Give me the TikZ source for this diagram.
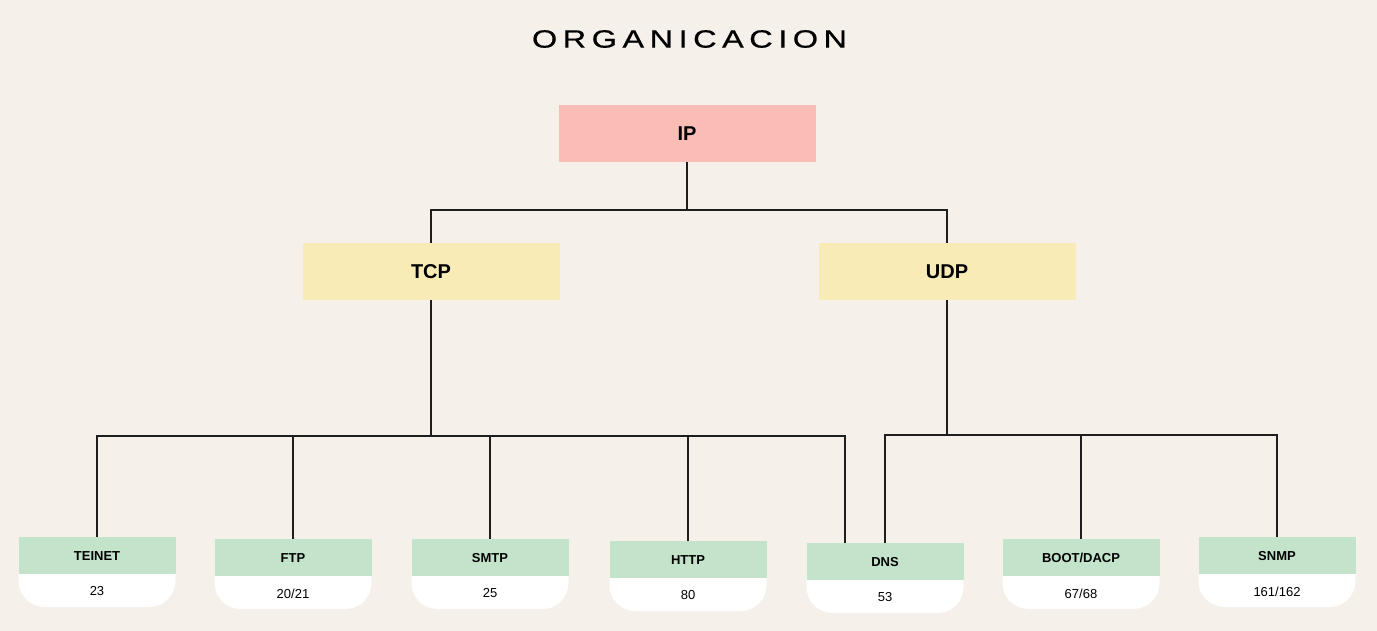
\documentclass[tikz,border=0pt]{standalone}
\usepackage{fontspec}
\setmainfont{Liberation Sans}
\newfontfamily\titlefont[LetterSpace=22,FakeStretch=1.3,FakeBold=0.6]{Liberation Sans}
\usetikzlibrary{calc}
\definecolor{bgc}{HTML}{F5F0EA}
\definecolor{ipc}{HTML}{F9BDB6}
\definecolor{tcpc}{HTML}{F8EBB5}
\definecolor{greenc}{HTML}{C3E4CB}
\definecolor{linec}{HTML}{1E1E1E}
\tikzset{
  bigbox/.style={fill=#1, minimum width=257pt, minimum height=57pt, inner sep=0pt, font=\fontsize{20}{22}\selectfont\bfseries},
  headbox/.style={fill=greenc, minimum width=157pt, minimum height=37pt, inner sep=0pt, anchor=north, font=\fontsize{13}{15}\selectfont\bfseries},
  numtext/.style={font=\fontsize{13}{15}\selectfont, inner sep=0pt},
  conn/.style={draw=linec, line width=1.6pt},
}
\newcommand{\lowbox}[5]{%
  \fill[white, rounded corners=26pt] (#2-78.5,#3+10) rectangle (#2+78.5,#3+70);
  \node[headbox] (#1) at (#2,#3) {#4};
  \node[numtext] (#1n) at ([yshift=-17pt]#1.south) {#5};
}
\begin{document}
\begin{tikzpicture}[x=1pt,y=-1pt]
\fill[bgc] (0,0) rectangle (1377,631);
\useasboundingbox (0,0) rectangle (1377,631);
\node[font=\titlefont\fontsize{25}{27}\selectfont, inner sep=0pt] (title) at (689.5,39) {ORGANICACION};
\node[bigbox=ipc] (ip) at (687,133.5) {IP};
\node[bigbox=tcpc] (tcp) at (431,271.5) {TCP};
\node[bigbox=tcpc] (udp) at (947,271.5) {UDP};
\lowbox{teinet}{97}{537}{TEINET}{23}
\lowbox{ftp}{293}{539}{FTP}{20/21}
\lowbox{smtp}{490}{539}{SMTP}{25}
\lowbox{http}{688}{541}{HTTP}{80}
\lowbox{dns}{885}{543}{DNS}{53}
\lowbox{boot}{1081}{539}{BOOT/DACP}{67/68}
\lowbox{snmp}{1277}{537}{SNMP}{161/162}
\coordinate (ipbus) at (0,210);
\coordinate (tbus) at (0,436);
\coordinate (ubus) at (0,435);
\coordinate (dnsL) at ([xshift=-40pt]dns.north);
\draw[conn] (ip.south) -- (ip.south |- ipbus);
\draw[conn] (tcp.north) -- (tcp.north |- ipbus) -- (udp.north |- ipbus) -- (udp.north);
\draw[conn] (tcp.south) -- (tcp.south |- tbus);
\draw[conn] (teinet.north) -- (teinet.north |- tbus) -- (dnsL |- tbus) -- (dnsL);
\draw[conn] (ftp.north) -- (ftp.north |- tbus);
\draw[conn] (smtp.north) -- (smtp.north |- tbus);
\draw[conn] (http.north) -- (http.north |- tbus);
\draw[conn] (udp.south) -- (udp.south |- ubus);
\draw[conn] (dns.north) -- (dns.north |- ubus) -- (snmp.north |- ubus) -- (snmp.north);
\draw[conn] (boot.north) -- (boot.north |- ubus);
\end{tikzpicture}
\end{document}
